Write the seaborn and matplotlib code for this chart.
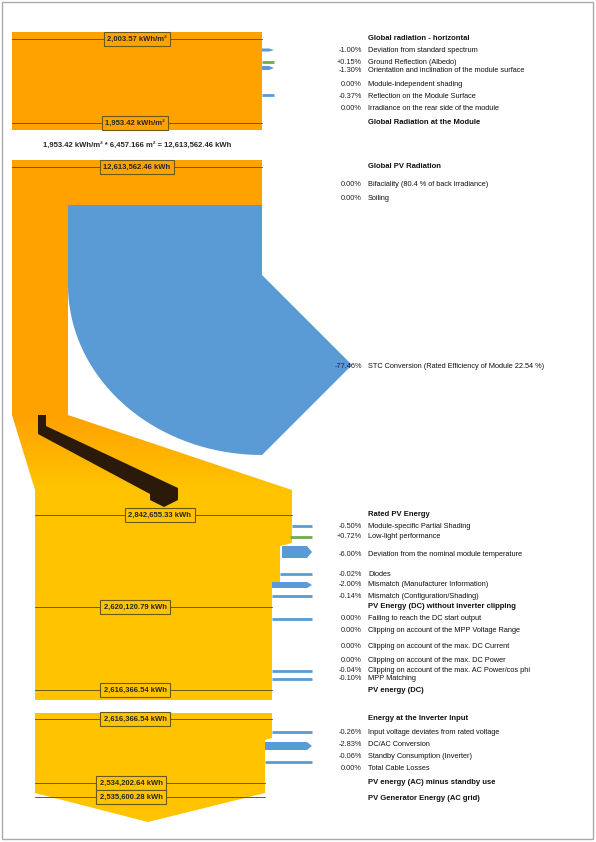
import numpy as np
import matplotlib.pyplot as plt
import seaborn as sns
from matplotlib.patches import Polygon, Rectangle
from matplotlib.colors import LinearSegmentedColormap

sns.set_style("white")
plt.rcParams['font.family'] = ['Liberation Sans', 'DejaVu Sans']

ORANGE = '#FFA200'
YELLOW = '#FFC300'
BLUE = '#5B9BD5'
GREEN = '#70AD47'

# ---- data ----
rows = [
    ("", "Global radiation - horizontal", True),
    ("-1.00%", "Deviation from standard spectrum", False),
    ("+0.15%", "Ground Reflection (Albedo)", False),
    ("-1.30%", "Orientation and inclination of the module surface", False),
    ("0.00%", "Module-independent shading", False),
    ("-0.37%", "Reflection on the Module Surface", False),
    ("0.00%", "Irradiance on the rear side of the module", False),
    ("", "Global Radiation at the Module", True),
    ("", "Global PV Radiation", True),
    ("0.00%", "Bifaciality (80.4 % of back irradiance)", False),
    ("0.00%", "Soiling", False),
    ("-77.46%", "STC Conversion (Rated Efficiency of Module 22.54 %)", False),
    ("", "Rated PV Energy", True),
    ("-0.50%", "Module-specific Partial Shading", False),
    ("+0.72%", "Low-light performance", False),
    ("-6.00%", "Deviation from the nominal module temperature", False),
    ("-0.02%", "Diodes", False),
    ("-2.00%", "Mismatch (Manufacturer Information)", False),
    ("-0.14%", "Mismatch (Configuration/Shading)", False),
    ("", "PV Energy (DC) without inverter clipping", True),
    ("0.00%", "Failing to reach the DC start output", False),
    ("0.00%", "Clipping on account of the MPP Voltage Range", False),
    ("0.00%", "Clipping on account of the max. DC Current", False),
    ("0.00%", "Clipping on account of the max. DC Power", False),
    ("-0.04%", "Clipping on account of the max. AC Power/cos phi", False),
    ("-0.10%", "MPP Matching", False),
    ("", "PV energy (DC)", True),
    ("", "Energy at the Inverter Input", True),
    ("-0.26%", "Input voltage deviates from rated voltage", False),
    ("-2.83%", "DC/AC Conversion", False),
    ("-0.06%", "Standby Consumption (Inverter)", False),
    ("0.00%", "Total Cable Losses", False),
    ("", "PV energy (AC) minus standby use", True),
    ("", "PV Generator Energy (AC grid)", True),
]
row_y = [38, 50, 62, 70, 85, 96, 109, 123, 167, 184, 199, 366, 514, 526, 537, 554,
         574, 585, 596, 607, 619, 631, 646, 661, 671, 679, 690, 719, 732, 744, 757,
         769, 783, 798]

value_labels = ["2,003.57 kWh/m²", "1,953.42 kWh/m²", "12,613,562.46 kWh",
                "2,842,655.33 kWh", "2,620,120.79 kWh", "2,616,366.54 kWh",
                "2,616,366.54 kWh", "2,534,202.64 kWh", "2,535,600.28 kWh"]
formula = "1,953.42 kWh/m² * 6,457.166 m² = 12,613,562.46 kWh"

# ---- figure ----
fig = plt.figure(figsize=(5.96, 8.42), dpi=100)
ax = fig.add_axes([0, 0, 1, 1])
ax.add_patch(Rectangle((2, 2), 591, 837, fill=False, ec='#aaaaaa', lw=1))

def poly(pts, color, z=1):
    ax.add_patch(Polygon(pts, closed=True, fc=color, ec='none', zorder=z))

def vlabel(x0, x1, y, text, color, xc):
    ax.plot([x0, x1], [y, y], color='#6b5a10', lw=0.7, zorder=3)
    ax.text(xc, y, text, ha='center', va='center', fontsize=5.5,
            fontweight='bold', zorder=4,
            bbox=dict(boxstyle='square,pad=0.4', fc=color, ec='#6b5a10', lw=0.8))

def stub(x0, y, h, color, x1=312):
    if h <= 2.5:
        ax.plot([x0, x1], [y, y], color=color, lw=2, solid_capstyle='butt', zorder=2)
    else:
        poly([(x0, y - h / 2), (x1 - 5, y - h / 2), (x1, y), (x1 - 5, y + h / 2),
              (x0, y + h / 2)], color, 2)

# block 1
poly([(12, 32), (262, 32), (262, 130), (12, 130)], ORANGE)
vlabel(12, 262, 39, value_labels[0], ORANGE, 137)
vlabel(12, 262, 123, value_labels[1], ORANGE, 135)
for y, c, h in [(50, BLUE, 3), (62, GREEN, 2), (68, BLUE, 4), (95, BLUE, 2)]:
    stub(262, y, h, c, 274)
ax.text(137, 145, formula, ha='center', va='center', fontsize=5.5, fontweight='bold')

# block 2 + STC conversion
poly([(12, 160), (262, 160), (262, 205), (68, 205), (68, 415), (12, 415)], ORANGE)
t = np.linspace(np.pi, np.pi / 2 * 3, 40)
arc = [(262 + 194 * np.cos(a), 285 - 170 * np.sin(a)) for a in t]
blue_pts = [(68, 205), (262, 205), (262, 275), (352, 365), (262, 455)] + arc[::-1] + [(68, 285)]
poly(blue_pts, BLUE)
vlabel(12, 262, 167, value_labels[2], ORANGE, 137)

# gradient trapezoid into block 3
grad = LinearSegmentedColormap.from_list('g', [ORANGE, YELLOW])
trap = Polygon([(12, 415), (68, 415), (292, 490), (35, 490)], closed=True, fc='none', ec='none')
ax.add_patch(trap)
im = ax.imshow(np.linspace(0, 1, 50).reshape(-1, 1), cmap=grad, aspect='auto',
               extent=(12, 292, 490, 415), zorder=1)
im.set_clip_path(trap)
ax.set_xlim(0, 596)
ax.set_ylim(842, 0)
ax.axis('off')

# dark conversion band
poly([(38, 415), (46, 415), (46, 426), (178, 488), (178, 500), (164, 507), (150, 500),
      (150, 494), (38, 434)], '#2b1a0a', 2)

# block 3
poly([(35, 490), (292, 490), (292, 543), (280, 546), (280, 582), (272, 586),
      (272, 700), (35, 700)], YELLOW)
vlabel(35, 292, 515, value_labels[3], YELLOW, 160)
vlabel(35, 272, 607, value_labels[4], YELLOW, 135)
vlabel(35, 272, 690, value_labels[5], YELLOW, 135)
for y, c, h, x0 in [(526, BLUE, 2, 292), (537, GREEN, 2, 290), (552, BLUE, 12, 282),
                    (574, BLUE, 2, 280), (585, BLUE, 6, 272), (596, BLUE, 2, 272),
                    (619, BLUE, 2, 272), (671, BLUE, 2, 272), (679, BLUE, 2, 272)]:
    stub(x0, y, h, c)

# block 4
poly([(35, 713), (272, 713), (272, 738), (265, 740), (265, 793), (148, 822), (35, 793)], YELLOW)
vlabel(35, 272, 719, value_labels[6], YELLOW, 135)
vlabel(35, 265, 783, value_labels[7], YELLOW, 131)
vlabel(35, 265, 797, value_labels[8], YELLOW, 131)
for y, h, x0 in [(732, 2, 272), (746, 8, 265), (762, 2, 265)]:
    stub(x0, y, h, BLUE)

# right text
for (pct, lab, bold), y in zip(rows, row_y):
    if pct:
        ax.text(362, y, pct, ha='right', va='center', fontsize=5.3, color='#222222')
    ax.text(368, y, lab, ha='left', va='center', fontsize=5.5 if bold else 5.3,
            fontweight='bold' if bold else 'normal', color='#111111')

fig.savefig('out.png', dpi=100)
